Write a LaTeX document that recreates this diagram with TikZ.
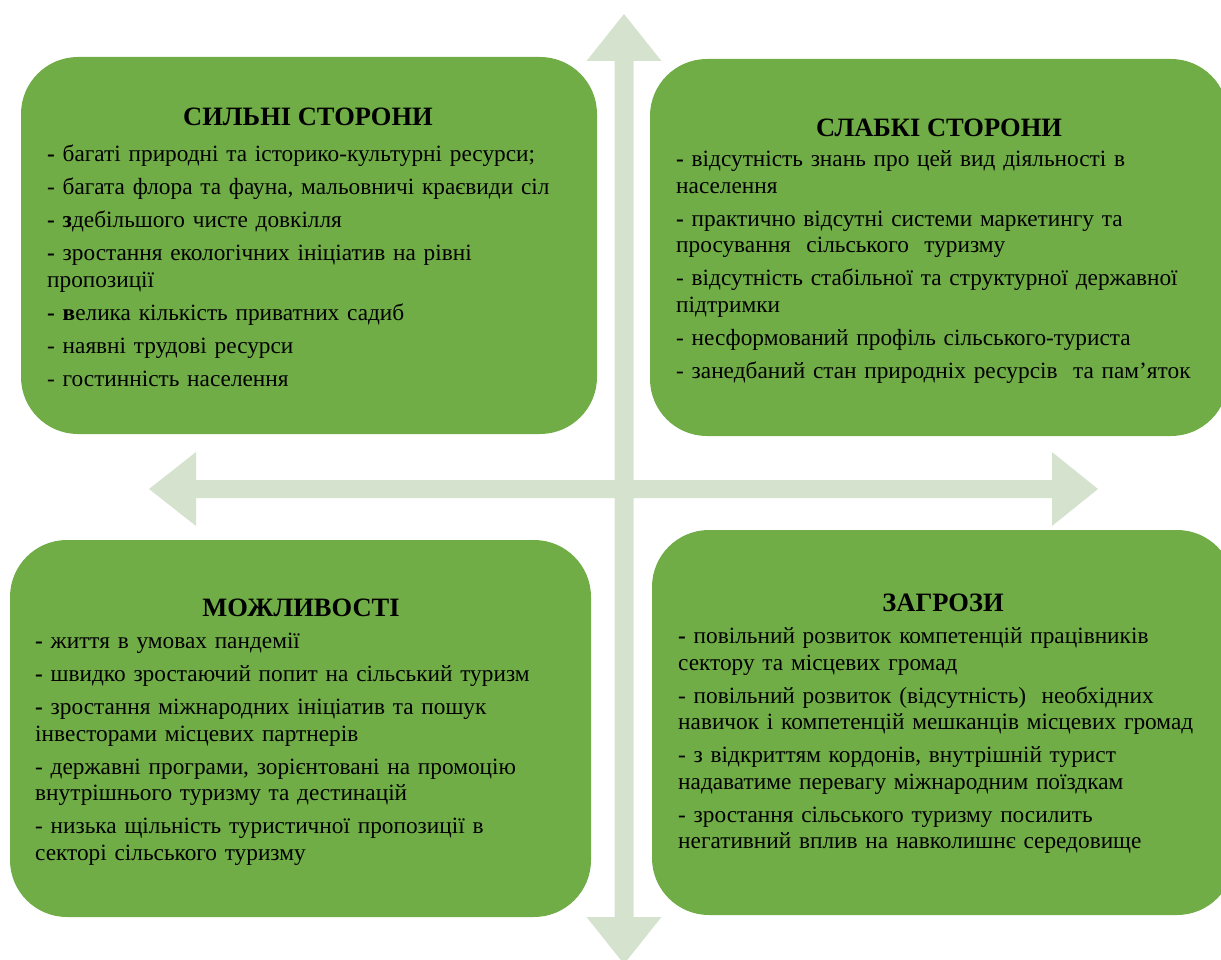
\documentclass[tikz,border=0pt]{standalone}
\usepackage{fontspec}
\setmainfont{Liberation Serif}
\definecolor{boxgreen}{HTML}{70AD47}
\definecolor{arrowgreen}{HTML}{D5E3CE}
\begin{document}
\begin{tikzpicture}[x=1pt,y=-1pt,
  box/.style={fill=boxgreen, draw=none, rounded corners=57pt, inner sep=0pt},
  ttl/.style={font=\fontsize{26.5}{30}\selectfont\bfseries, anchor=base, inner sep=0pt},
  items/.style={font=\fontsize{23.3}{26.5}\selectfont, anchor=north west, align=left, text width=570pt, inner sep=0pt},
  arr/.style={fill=arrowgreen, draw=none}]
\useasboundingbox (0,0) rectangle (1221,960);
\clip (0,0) rectangle (1221,960);
% arrows
\fill[arr] (624,14) -- (661.5,61) -- (633.5,61) -- (633.5,917) -- (661.5,917) -- (624,964)
  -- (586.5,917) -- (614.5,917) -- (614.5,61) -- (586.5,61) -- cycle;
\fill[arr] (149,489) -- (196,452) -- (196,480) -- (1052,480) -- (1052,452) -- (1098,489)
  -- (1052,526) -- (1052,498) -- (196,498) -- (196,526) -- cycle;
% boxes
\node[box, minimum width=576pt, minimum height=377pt] (tl) at (309,245.5) {};
\node[box, minimum width=578pt, minimum height=377pt] (tr) at (939,247.5) {};
\node[box, minimum width=581pt, minimum height=377pt] (bl) at (300.5,728.5) {};
\node[box, minimum width=582pt, minimum height=385pt] (br) at (943,722.5) {};
% titles
\node[ttl] (tlt) at (308,125.5) {СИЛЬНІ СТОРОНИ};
\node[ttl] (trt) at (939,136.5) {СЛАБКІ СТОРОНИ};
\node[ttl] (blt) at (301,616.5) {МОЖЛИВОСТІ};
\node[ttl] (brt) at (943,611.5) {ЗАГРОЗИ};
% items
\node[items] (tli) at (47,143) {\strut\textbf{-} багаті природні та історико-культурні ресурси;\\[6.5pt]
- багата флора та фауна, мальовничі краєвиди сіл\\[6.5pt]
\textbf{- з}дебільшого чисте довкілля\\[6.5pt]
\textbf{-} зростання екологічних ініціатив на рівні\\
пропозиції\\[6.5pt]
\textbf{- в}елика кількість приватних садиб\\[6.5pt]
- наявні трудові ресурси\\[6.5pt]
- гостинність населення};
\node[items] (tri) at (676,148) {\strut\textbf{-} відсутність знань про цей вид діяльності в\\
населення\\[6.5pt]
\textbf{-} практично відсутні системи маркетингу та\\
просування\ \ сільського\ \ туризму\\[6.5pt]
- відсутність стабільної та структурної державної\\
підтримки\\[6.5pt]
- несформований профіль сільського-туриста\\[6.5pt]
- занедбаний стан природніх ресурсів\ \ та пам’яток};
\node[items] (bli) at (35,630) {\strut\textbf{-} життя в умовах пандемії\\[6.5pt]
\textbf{-} швидко зростаючий попит на сільський туризм\\[6.5pt]
\textbf{-} зростання міжнародних ініціатив та пошук\\
інвесторами місцевих партнерів\\[6.5pt]
- державні програми, зорієнтовані на промоцію\\
внутрішнього туризму та дестинацій\\[6.5pt]
- низька щільність туристичної пропозиції в\\
секторі сільського туризму};
\node[items] (bri) at (678,625) {\strut\textbf{-} повільний розвиток компетенцій працівників\\
сектору та місцевих громад\\[6.5pt]
- повільний розвиток (відсутність)\ \ необхідних\\
навичок і компетенцій мешканців місцевих громад\\[6.5pt]
- з відкриттям кордонів, внутрішній турист\\
надаватиме перевагу міжнародним поїздкам\\[6.5pt]
- зростання сільського туризму посилить\\
негативний вплив на навколишнє середовище};
\end{tikzpicture}
\end{document}
